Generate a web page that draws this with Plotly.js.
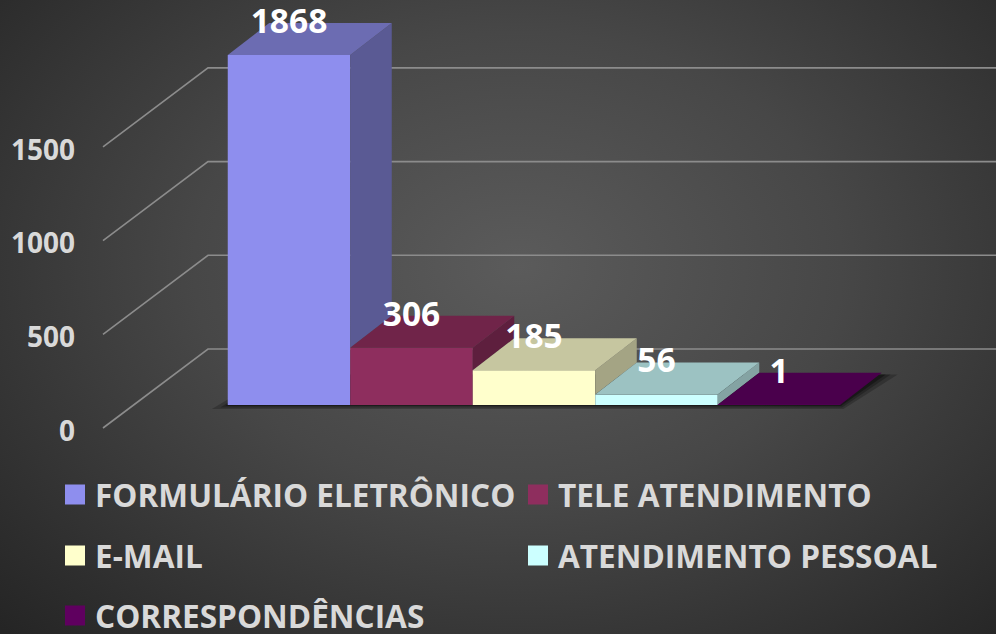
<!DOCTYPE html>
<html>
<head>
<meta charset="utf-8">
<script src="https://cdn.plot.ly/plotly-3.0.1.min.js"></script>
<style>
html,body{margin:0;padding:0;width:996px;height:634px;overflow:hidden;
background:radial-gradient(ellipse 720px 520px at 52% 42%, #5b5b5b 0%, #474747 45%, #2e2e2e 85%, #252525 100%);}
#chart{width:996px;height:634px;}
</style>
</head>
<body>
<div id="chart"></div>
<script>
// Data
const categories = ["FORMULÁRIO ELETRÔNICO","TELE ATENDIMENTO","E-MAIL","ATENDIMENTO PESSOAL","CORRESPONDÊNCIAS"];
const values = [1868,306,185,56,1];
const frontColors = ["#8E8EEE","#8E2E5E","#FFFFCC","#CCFFFF","#5F005F"];
const topColors   = ["#6C6CB2","#702449","#C6C6A0","#9CC2C2","#4A004C"];
const sideColors  = ["#5A5A94","#5E1F3E","#A4A484","#84A3A3","#3A003A"];
const legendRows  = ["legend","legend","legend2","legend2","legend3"];
const tickValues  = [0,500,1000,1500];
const tickLabels  = ["0","500","1000","1500"];

// Scales of the drawing (pixels per data unit, and anchors)
const W = 996, H = 634;
const pxPerCat = 122.5, firstBarCentre = 289;
const pxPerUnit = 0.1874, floorFrontPx = 405, axisZeroPx = 428;
const depthX = 41.5/pxPerCat, depthV = 32/pxPerUnit;
const labelLift = 30.5/pxPerUnit;
const wallDepthV = 79/pxPerUnit;
const xOf = px => (px-firstBarCentre)/pxPerCat;
const FONT = '"Open Sans", sans-serif';

const traces = [];
// front faces (real bars)
values.forEach((v,i)=>{
  traces.push({type:"bar",x:[i],y:[v],width:[1],name:categories[i],
    marker:{color:frontColors[i],line:{width:0}},legend:legendRows[i],hoverinfo:"x+y"});
});
// side and top faces
values.forEach((v,i)=>{
  const a=i-0.5,b=i+0.5;
  const next = i<values.length-1 ? values[i+1] : 0;
  traces.push({type:"scatter",mode:"lines",fill:"toself",fillcolor:sideColors[i],line:{width:0},
    x:[b,b+depthX,b+depthX,b,b],y:[v,v+depthV,next+depthV,next,v],showlegend:false,hoverinfo:"skip"});
  traces.push({type:"scatter",mode:"lines",fill:"toself",fillcolor:topColors[i],line:{width:0},
    x:[a,b,b+depthX,a+depthX,a],y:[v,v,v+depthV,v+depthV,v],showlegend:false,hoverinfo:"skip"});
});
// data labels
traces.push({type:"scatter",mode:"text",x:values.map((v,i)=>i),y:values.map(v=>v+labelLift),
  text:values.map(String),textposition:"middle center",
  textfont:{family:FONT,size:33.5,color:"#ffffff",weight:700},showlegend:false,hoverinfo:"skip",cliponaxis:false});
// carries the value axis
traces.push({type:"scatter",mode:"lines",x:[xOf(103)],y:[0],yaxis:"y2",showlegend:false,hoverinfo:"skip",line:{width:0}});

// walls, gridlines and floor shadow
const shapes = [];
const a0=-0.5, b0=values.length-0.5;
[[0.22,-0.13,22,16],[0.25,-0.06,13,9],[0.35,-0.02,6,4]].forEach(([op,gx,gv,ext])=>{
  const ex=ext/pxPerCat;
  shapes.push({type:"path",layer:"below",xref:"x",yref:"y",line:{width:0},
    fillcolor:"rgba(0,0,0,"+op+")",
    path:`M ${a0+gx} ${-gv} L ${b0+ex*0.2} ${-gv} L ${b0+depthX+ex} ${depthV-8} L ${a0+depthX} ${depthV-8} Z`});
});
tickValues.forEach(t=>{
  shapes.push({type:"path",layer:"below",xref:"x",yref:"y2",
    line:{color:"#8C8C8C",width:1.6},
    path:`M ${xOf(103)} ${t} L ${xOf(208)} ${t+wallDepthV} L ${xOf(W)} ${t+wallDepthV}`});
});

const legendBase = {orientation:"h",xanchor:"left",yanchor:"middle",bgcolor:"rgba(0,0,0,0)",
  borderwidth:0,entrywidth:418,entrywidthmode:"pixels",itemclick:false,itemdoubleclick:false,
  font:{family:FONT,size:31.6,color:"#D9D9D9",weight:700}};
const legX = 55/W;

const layout = {
  width:W,height:H,margin:{l:0,r:0,t:0,b:0,pad:0,autoexpand:false},
  paper_bgcolor:"rgba(0,0,0,0)",plot_bgcolor:"rgba(0,0,0,0)",
  barmode:"overlay",showlegend:true,
  xaxis:{range:[xOf(0),xOf(W)],visible:false,fixedrange:true},
  yaxis:{range:[(floorFrontPx-H)/pxPerUnit,floorFrontPx/pxPerUnit],visible:false,fixedrange:true},
  yaxis2:{overlaying:"y",anchor:"free",position:75/W,side:"left",
    range:[(axisZeroPx-H)/pxPerUnit,axisZeroPx/pxPerUnit],
    tickmode:"array",tickvals:tickValues,ticktext:tickLabels,ticklabelshift:3,
    showgrid:false,zeroline:false,showline:false,ticks:"",fixedrange:true,
    tickfont:{family:FONT,size:28,color:"#D9D9D9",weight:700}},
  legend: Object.assign({},legendBase,{x:legX,y:1-495/H}),
  legend2:Object.assign({},legendBase,{x:legX,y:1-556/H}),
  legend3:Object.assign({},legendBase,{x:legX,y:1-616/H}),
  shapes:shapes
};

// Excel's legend keys are 20 px squares
function enlargeKeys(){
  document.querySelectorAll("g.legendpoints path").forEach(p=>p.setAttribute("d","M10,10H-10V-10H10Z"));
}
const gd = document.getElementById("chart");
Plotly.newPlot(gd,traces,layout,{displayModeBar:false}).then(()=>{
  enlargeKeys();
  gd.on("plotly_afterplot",enlargeKeys);
  requestAnimationFrame(enlargeKeys);
  setTimeout(enlargeKeys,50);
});
</script>
</body>
</html>
